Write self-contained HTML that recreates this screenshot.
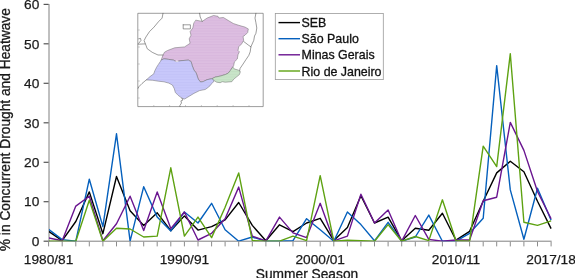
<!DOCTYPE html>
<html lang="en"><head><meta charset="utf-8"><title>Concurrent Drought and Heatwave</title>
<style>html,body{margin:0;padding:0;background:#fff}body{width:575px;height:278px;overflow:hidden}</style></head>
<body>
<svg width="575" height="278" viewBox="0 0 575 278" style="display:block;will-change:transform">
<rect width="575" height="278" fill="#fff"/>
<defs><clipPath id="ax"><rect x="49" y="4" width="503" height="237.2"/></clipPath></defs>
<defs>
<pattern id="hm" width="8" height="2.7" patternUnits="userSpaceOnUse"><rect width="8" height="2.7" fill="#ddbee1"/><rect y="0.9" width="8" height="1" fill="#d8b7dd"/></pattern>
<pattern id="hs" width="8" height="2.7" patternUnits="userSpaceOnUse"><rect width="8" height="2.7" fill="#c8c8fb"/><rect y="0.9" width="8" height="1" fill="#c2c2f7"/></pattern>
<pattern id="hr" width="8" height="2.7" patternUnits="userSpaceOnUse"><rect width="8" height="2.7" fill="#c9e5c9"/><rect y="0.9" width="8" height="1" fill="#c2dfc2"/></pattern>
</defs>
<g stroke-linejoin="round" stroke-linecap="round">
<rect x="138.2" y="13.3" width="125" height="93.3" fill="#fff" stroke="#5a5a5a" stroke-width="0.6"/>
<path d="M196.1 20.2 L202.2 21.4 L207.2 18.0 L213.5 15.5 L218.0 16.3 L218.9 18.0 L223.4 17.5 L228.8 20.8 L233.3 23.5 L238.7 25.3 L245.0 27.1 L248.3 28.9 L247.7 32.5 L245.0 35.2 L243.0 36.5 L243.7 40.3 L241.6 43.9 L238.7 46.8 L238.0 50.4 L239.4 51.8 L238.0 54.7 L237.3 59.0 L234.4 61.9 L233.7 65.5 L232.8 67.3 L230.3 70.6 L228.3 73.1 L225.2 74.6 L220.2 76.1 L215.2 77.1 L212.1 78.6 L207.1 79.7 L203.1 81.6 L200.5 82.0 L198.2 79.0 L196.2 73.0 L193.9 70.0 L192.1 65.3 L191.1 61.6 L188.3 60.1 L180.9 60.7 L176.2 61.6 L173.4 60.1 L168.7 59.4 L164.0 58.8 L161.2 60.1 L163.0 55.0 L164.5 52.2 L167.5 50.5 L174.7 47.8 L184.6 46.9 L190.1 43.3 L189.2 38.8 L191.0 35.2 L190.1 31.6 L192.8 28.0 L193.7 23.5Z" fill="url(#hm)" stroke="#6a6a6a" stroke-width="0.5"/>
<path d="M161.2 60.1 L164.0 58.8 L168.7 59.4 L173.4 60.1 L176.2 61.6 L180.9 60.7 L188.3 60.1 L191.1 61.6 L192.1 65.3 L193.9 70.0 L196.2 73.0 L198.2 79.0 L200.5 82.0 L203.1 81.6 L207.1 79.7 L212.1 78.6 L214.2 80.6 L213.1 82.2 L211.6 83.7 L210.1 85.7 L207.1 88.2 L205.2 89.5 L199.6 90.6 L193.9 93.4 L189.3 96.2 L184.6 99.0 L181.8 98.1 L178.1 95.3 L175.3 92.4 L174.3 88.7 L172.4 85.0 L168.7 83.1 L164.0 81.8 L158.4 81.2 L152.8 80.3 L146.3 79.9 L150.0 76.6 L153.8 73.8 L154.7 71.0 L156.6 67.2 L158.4 64.4 L160.3 61.6Z" fill="url(#hs)" stroke="#6a6a6a" stroke-width="0.5"/>
<path d="M232.8 67.3 L234.8 69.1 L238.3 70.1 L240.4 71.6 L239.4 74.6 L236.3 77.1 L233.8 79.1 L231.8 81.7 L225.2 82.2 L222.2 81.7 L220.2 82.7 L216.7 82.2 L214.2 80.6 L212.1 78.6 L215.2 77.1 L220.2 76.1 L225.2 74.6 L228.3 73.1 L230.3 70.6Z" fill="url(#hr)" stroke="#6a6a6a" stroke-width="0.5"/>
<path d="M163.0 13.3 L162.1 18.1 L158.5 21.7 L154.0 27.1 L149.5 31.6 L145.9 37.0 L144.1 40.6 L145.9 45.1 L147.2 48.7 L152.2 52.3 L158.0 55.0 L163.0 55.0" fill="none" stroke="#4a4a4a" stroke-width="0.55"/>
<path d="M138.2 44.2 L145.0 43.9" fill="none" stroke="#4a4a4a" stroke-width="0.55"/>
<path d="M138.7 38.8 L140.5 38.4 L141.0 40.4 L138.7 43.3" fill="none" stroke="#4a4a4a" stroke-width="0.55"/>
<path d="M183.2 24.8 L190.4 24.8 L190.4 28.9 L183.2 28.9 L183.2 24.8" fill="none" stroke="#4a4a4a" stroke-width="0.55"/>
<path d="M202.2 21.4 L200.2 17.0 L199.6 13.3" fill="none" stroke="#4a4a4a" stroke-width="0.55"/>
<path d="M255.9 13.3 L255.0 18.1 L255.9 22.6 L256.8 28.0 L255.9 33.4 L254.5 36.0 L253.8 40.3 L250.9 46.8 L250.2 51.8 L248.8 55.4 L245.9 59.7 L243.0 64.1 L240.1 68.4 L239.6 70.8" fill="none" stroke="#4a4a4a" stroke-width="0.55"/>
<path d="M243.7 41.5 L248.8 45.4 L250.9 46.8" fill="none" stroke="#4a4a4a" stroke-width="0.55"/>
<path d="M146.3 79.9 L142.0 83.5 L138.8 86.8 L138.2 88.2" fill="none" stroke="#4a4a4a" stroke-width="0.55"/>
<path d="M181.8 98.1 L183.0 100.0 L180.9 100.9 L181.5 103.0 L179.9 105.5 L180.0 106.6" fill="none" stroke="#4a4a4a" stroke-width="0.55"/>
<ellipse cx="177" cy="61.2" rx="1.6" ry="0.6" fill="#f4f0f8"/>
<path d="M153.8 106.6 v-1.2M169.6 106.6 v-1.2M185.5 106.6 v-1.2M201.4 106.6 v-1.2M217.2 106.6 v-1.2M233.1 106.6 v-1.2M249.0 106.6 v-1.2M138.2 30.0 h1.2M138.2 47.0 h1.2M138.2 64.0 h1.2M138.2 81.0 h1.2M138.2 98.0 h1.2" stroke="#999" stroke-width="0.5" fill="none"/>
</g>
<g stroke="#808080" stroke-width="1" fill="none">
<path d="M49 4 V241.7"/>
<path d="M48.5 241.2 H551.6"/>
</g>
<g stroke="#555" stroke-width="1.2" fill="none">
<path d="M43.6 241.2 H48.6"/>
<path d="M43.6 201.7 H48.6"/>
<path d="M43.6 162.3 H48.6"/>
<path d="M43.6 122.8 H48.6"/>
<path d="M43.6 83.3 H48.6"/>
<path d="M43.6 43.8 H48.6"/>
<path d="M43.6 4.4 H48.6"/>
</g>
<g stroke="#8c8c8c" stroke-width="1" fill="none">
<path d="M48.6 241.7 V246.4"/>
<path d="M62.2 241.7 V246.4"/>
<path d="M75.8 241.7 V246.4"/>
<path d="M89.3 241.7 V246.4"/>
<path d="M102.9 241.7 V246.4"/>
<path d="M116.5 241.7 V246.4"/>
<path d="M130.1 241.7 V246.4"/>
<path d="M143.7 241.7 V246.4"/>
<path d="M157.2 241.7 V246.4"/>
<path d="M170.8 241.7 V246.4"/>
<path d="M184.4 241.7 V246.4"/>
<path d="M198.0 241.7 V246.4"/>
<path d="M211.6 241.7 V246.4"/>
<path d="M225.1 241.7 V246.4"/>
<path d="M238.7 241.7 V246.4"/>
<path d="M252.3 241.7 V246.4"/>
<path d="M265.9 241.7 V246.4"/>
<path d="M279.5 241.7 V246.4"/>
<path d="M293.0 241.7 V246.4"/>
<path d="M306.6 241.7 V246.4"/>
<path d="M320.2 241.7 V246.4"/>
<path d="M333.8 241.7 V246.4"/>
<path d="M347.4 241.7 V246.4"/>
<path d="M360.9 241.7 V246.4"/>
<path d="M374.5 241.7 V246.4"/>
<path d="M388.1 241.7 V246.4"/>
<path d="M401.7 241.7 V246.4"/>
<path d="M415.3 241.7 V246.4"/>
<path d="M428.8 241.7 V246.4"/>
<path d="M442.4 241.7 V246.4"/>
<path d="M456.0 241.7 V246.4"/>
<path d="M469.6 241.7 V246.4"/>
<path d="M483.2 241.7 V246.4"/>
<path d="M496.7 241.7 V246.4"/>
<path d="M510.3 241.7 V246.4"/>
<path d="M523.9 241.7 V246.4"/>
<path d="M537.5 241.7 V246.4"/>
<path d="M551.1 241.7 V246.4"/>
</g>
<polyline points="48.6,231.3 62.2,240.6 75.8,221.5 89.3,191.9 102.9,233.7 116.5,176.5 130.1,210.8 143.7,225.4 157.2,212.8 170.8,230.7 184.4,215.9 198.0,230.1 211.6,226.6 225.1,219.9 238.7,202.5 252.3,225.4 265.9,240.8 279.5,224.8 293.0,231.7 306.6,223.0 320.2,218.3 333.8,240.6 347.4,227.6 360.9,195.8 374.5,223.0 388.1,217.1 401.7,240.8 415.3,228.2 428.8,230.3 442.4,213.3 456.0,240.2 469.6,231.3 483.2,201.3 496.7,172.9 510.3,161.3 523.9,171.7 537.5,201.3 551.1,228.6" fill="none" stroke="#000" stroke-width="1.4" stroke-linejoin="round" clip-path="url(#ax)"/>
<polyline points="48.6,229.4 62.2,239.6 75.8,241.2 89.3,179.2 102.9,226.6 116.5,133.8 130.1,241.2 143.7,186.7 157.2,217.1 170.8,230.9 184.4,212.0 198.0,223.0 211.6,203.3 225.1,229.8 238.7,241.2 252.3,237.0 265.9,241.2 279.5,241.2 293.0,240.6 306.6,218.7 320.2,229.8 333.8,241.2 347.4,212.0 360.9,224.6 374.5,240.8 388.1,222.3 401.7,241.2 415.3,237.0 428.8,215.1 442.4,241.2 456.0,241.2 469.6,233.3 483.2,218.3 496.7,65.6 510.3,189.9 523.9,239.2 537.5,188.3 551.1,220.3" fill="none" stroke="#0560bd" stroke-width="1.4" stroke-linejoin="round" clip-path="url(#ax)"/>
<polyline points="48.6,238.0 62.2,240.8 75.8,206.1 89.3,196.2 102.9,240.8 116.5,223.8 130.1,196.2 143.7,230.5 157.2,191.9 170.8,228.6 184.4,212.0 198.0,240.0 211.6,233.3 225.1,218.7 238.7,187.1 252.3,236.1 265.9,240.8 279.5,217.1 293.0,232.9 306.6,237.6 320.2,203.3 333.8,240.8 347.4,236.1 360.9,194.2 374.5,223.0 388.1,210.0 401.7,241.2 415.3,215.5 428.8,239.4 442.4,241.2 456.0,240.0 469.6,240.0 483.2,200.7 496.7,197.2 510.3,122.4 523.9,150.4 537.5,191.5 551.1,218.7" fill="none" stroke="#6a1590" stroke-width="1.4" stroke-linejoin="round" clip-path="url(#ax)"/>
<polyline points="48.6,241.2 62.2,241.2 75.8,241.2 89.3,200.2 102.9,241.2 116.5,228.2 130.1,229.0 143.7,237.0 157.2,236.1 170.8,167.8 184.4,236.1 198.0,217.1 211.6,237.6 225.1,207.3 238.7,172.9 252.3,240.6 265.9,241.2 279.5,241.2 293.0,236.1 306.6,240.6 320.2,175.7 333.8,241.2 347.4,240.2 360.9,240.8 374.5,241.2 388.1,224.6 401.7,241.2 415.3,236.5 428.8,240.6 442.4,199.8 456.0,240.8 469.6,241.2 483.2,146.1 496.7,166.6 510.3,53.7 523.9,222.3 537.5,225.4 551.1,220.9" fill="none" stroke="#5ea212" stroke-width="1.4" stroke-linejoin="round" clip-path="url(#ax)"/>
<g font-family="Liberation Sans, sans-serif" font-size="13.7" fill="#1a1a1a" stroke="#1a1a1a" stroke-width="0.25">
<text x="39.3" y="245.9" text-anchor="end">0</text>
<text x="39.3" y="206.4" text-anchor="end">10</text>
<text x="39.3" y="167.0" text-anchor="end">20</text>
<text x="39.3" y="127.5" text-anchor="end">30</text>
<text x="39.3" y="88.0" text-anchor="end">40</text>
<text x="39.3" y="48.5" text-anchor="end">50</text>
<text x="39.3" y="9.1" text-anchor="end">60</text>
<text x="48.6" y="264.1" text-anchor="middle">1980/81</text>
<text x="184.4" y="264.1" text-anchor="middle">1990/91</text>
<text x="320.2" y="264.1" text-anchor="middle">2000/01</text>
<text x="456.0" y="264.1" text-anchor="middle">2010/11</text>
<text x="551.1" y="264.1" text-anchor="middle">2017/18</text>
</g>
<g font-family="Liberation Sans, sans-serif" font-size="13.76" fill="#1a1a1a" stroke="#1a1a1a" stroke-width="0.3">
<text x="307" y="278.8" text-anchor="middle">Summer Season</text>
<text transform="translate(10.3,129.65) rotate(-90)" text-anchor="middle">% in Concurrent Drought and Heatwave</text>
</g>
<rect x="275.3" y="13.4" width="108" height="66.2" fill="#fff" stroke="#9a9a9a" stroke-width="0.8"/>
<g font-family="Liberation Sans, sans-serif" font-size="12.4" fill="#111" stroke="#111" stroke-width="0.3">
<path d="M278.5 22.6 H300" stroke="#000" stroke-width="1.4"/>
<text x="301.6" y="27.1">SEB</text>
<path d="M278.5 38.7 H300" stroke="#0560bd" stroke-width="1.4"/>
<text x="301.6" y="43.3">São Paulo</text>
<path d="M278.5 54.8 H300" stroke="#6a1590" stroke-width="1.4"/>
<text x="301.6" y="59.4">Minas Gerais</text>
<path d="M278.5 71.0 H300" stroke="#5ea212" stroke-width="1.4"/>
<text x="301.6" y="75.6">Rio de Janeiro</text>
</g>
</svg>
</body></html>
